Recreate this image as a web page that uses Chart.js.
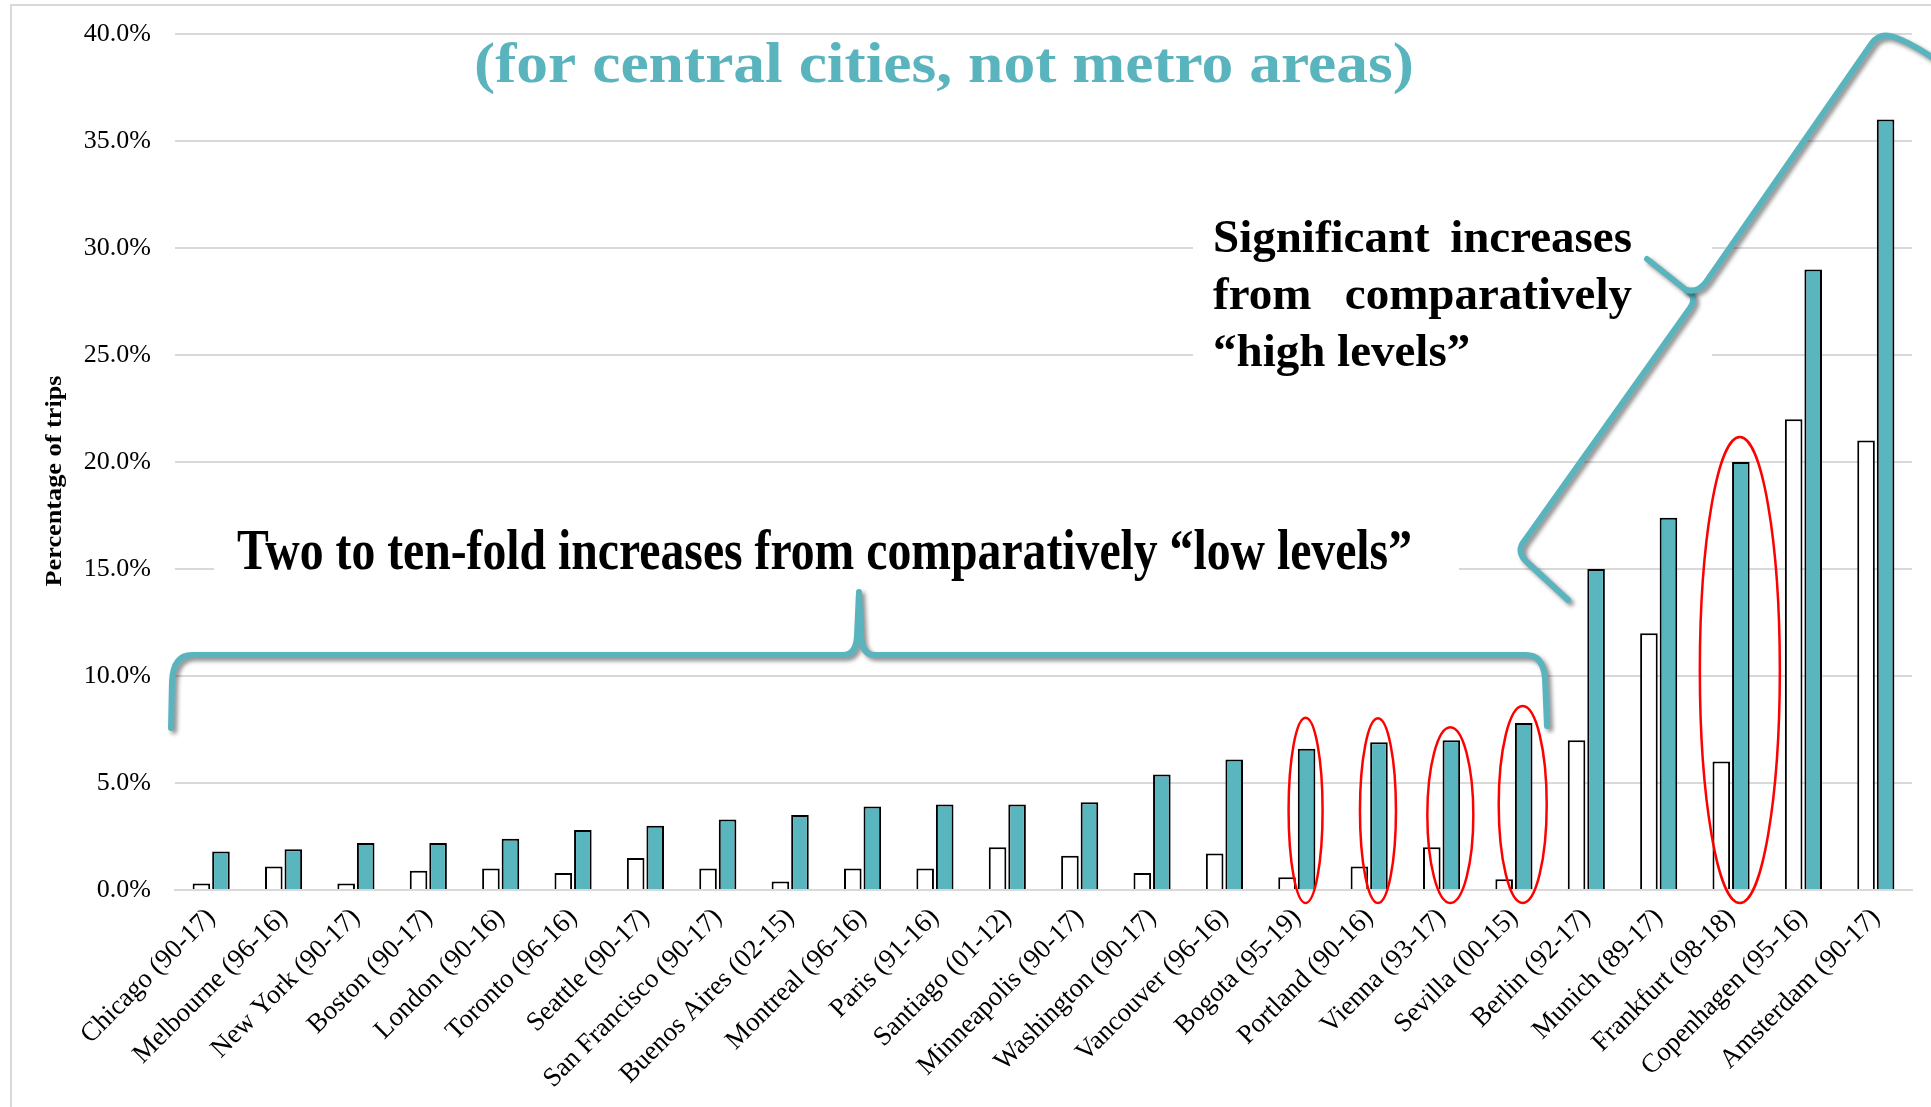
<!DOCTYPE html>
<html>
<head>
<meta charset="utf-8">
<script src="https://cdn.jsdelivr.net/npm/chart.js@4"></script>
<style>
  html, body { margin: 0; padding: 0; background: #fff; }
  canvas { display: block; }
</style>
</head>
<body>
<canvas id="myChart" width="1931" height="1107"></canvas>
<script>
// data (percentage of trips by bike)
const cities = ["Chicago (90-17)", "Melbourne (96-16)", "New York (90-17)", "Boston (90-17)", "London (90-16)",
  "Toronto (96-16)", "Seattle (90-17)", "San Francisco (90-17)", "Buenos Aires (02-15)", "Montreal (96-16)",
  "Paris (91-16)", "Santiago (01-12)", "Minneapolis (90-17)", "Washington (90-17)", "Vancouver (96-16)",
  "Bogota (95-19)", "Portland (90-16)", "Vienna (93-17)", "Sevilla (00-15)", "Berlin (92-17)",
  "Munich (89-17)", "Frankfurt (98-18)", "Copenhagen (95-16)", "Amsterdam (90-17)"]
const startShare = [0.3, 1.1, 0.3, 0.9, 1.0, 0.8, 1.5, 1.0, 0.4, 1.0, 1.0, 2.0, 1.6, 0.8, 1.7, 0.6, 1.1, 2.0, 0.5, 7.0, 12.0, 6.0, 22.0, 21.0]
const endShare = [1.8, 1.9, 2.2, 2.2, 2.4, 2.8, 3.0, 3.3, 3.5, 3.9, 4.0, 4.0, 4.1, 5.4, 6.1, 6.6, 6.9, 7.0, 7.8, 15.0, 17.4, 20.0, 29.0, 36.0]
const yMin = 0, yMax = 40, yStep = 5

// cities ringed in red: index, half width, room above the bar
const ringed = [[15, 17, 31], [16, 18, 24], [17, 23, 13], [18, 24, 17], [21, 40, 25]]

const teal = "rgb(89,182,191)"
const braceTeal = "rgb(90,180,190)"
const serif = '"Liberation Serif", "Times New Roman", serif'

const fitText = (ctx, text, x, y, size, width, color, align) => {
  ctx.save()
  ctx.font = "bold " + size + "px " + serif
  ctx.fillStyle = color
  ctx.textBaseline = "alphabetic"
  ctx.textAlign = "left"
  var w = ctx.measureText(text).width
  var sx = width ? width / w : 1
  ctx.translate(x, y)
  ctx.scale(sx, 1)
  var off = align == "right" ? -w : (align == "center" ? -w / 2 : 0)
  ctx.fillText(text, off, 0)
  ctx.restore()
}

const decor = {
  id: "decor",
  beforeDraw(chart) {
    var ctx = chart.ctx
    ctx.save()
    ctx.fillStyle = "#fff"
    ctx.fillRect(0, 0, chart.width, chart.height)
    // slide frame
    ctx.strokeStyle = "#d9d9d9"
    ctx.lineWidth = 2
    ctx.beginPath()
    ctx.moveTo(11, chart.height)
    ctx.lineTo(11, 5)
    ctx.lineTo(chart.width, 5)
    ctx.stroke()
    ctx.restore()
  },
  beforeDatasetsDraw(chart) {
    var ctx = chart.ctx
    ctx.save()
    ctx.fillStyle = "#fff"
    ctx.fillRect(214, 510, 1245, 100)
    ctx.fillRect(1193, 198, 519, 198)
    ctx.restore()
  },
  afterDatasetsDraw(chart) {
    var ctx = chart.ctx
    var y = chart.scales.y
    var teals = chart.getDatasetMeta(1).data

    // red rings
    ctx.save()
    ctx.strokeStyle = "#ff0000"
    ctx.lineWidth = 2.5
    ringed.forEach(([i, rx, pad]) => {
      var top = y.getPixelForValue(endShare[i]) - pad
      var bottom = y.getPixelForValue(0) + 13
      ctx.beginPath()
      ctx.ellipse(teals[i].x - 1, (top + bottom) / 2, rx, (bottom - top) / 2, 0, 0, Math.PI * 2)
      ctx.stroke()
    })
    ctx.restore()

    // braces
    ctx.save()
    ctx.strokeStyle = braceTeal
    ctx.lineWidth = 6
    ctx.lineCap = "round"
    ctx.lineJoin = "round"
    ctx.shadowColor = "rgba(0,0,0,0.45)"
    ctx.shadowOffsetX = 3
    ctx.shadowOffsetY = 3
    ctx.shadowBlur = 4
    ctx.beginPath()
    ctx.moveTo(171, 728)
    ctx.lineTo(172, 682)
    ctx.quadraticCurveTo(173, 655, 192, 655)
    ctx.lineTo(843, 655)
    ctx.quadraticCurveTo(856, 655, 857, 636)
    ctx.lineTo(859, 592)
    ctx.lineTo(861, 636)
    ctx.quadraticCurveTo(862, 655, 875, 655)
    ctx.lineTo(1526, 655)
    ctx.quadraticCurveTo(1543, 655, 1545, 678)
    ctx.lineTo(1547, 726)
    ctx.stroke()

    ctx.beginPath()
    ctx.moveTo(1568, 600)
    ctx.lineTo(1528, 563)
    ctx.quadraticCurveTo(1515, 552, 1525, 540)
    ctx.lineTo(1690, 308)
    ctx.quadraticCurveTo(1698, 296, 1686, 290)
    ctx.lineTo(1647, 259)
    ctx.stroke()
    ctx.beginPath()
    ctx.moveTo(1686, 290)
    ctx.quadraticCurveTo(1698, 293, 1706, 282)
    ctx.lineTo(1872, 43)
    ctx.quadraticCurveTo(1880, 32, 1894, 37)
    ctx.quadraticCurveTo(1915, 44, 1950, 70)
    ctx.stroke()
    ctx.restore()

    // annotation texts
    fitText(ctx, "(for central cities, not metro areas)", 944, 82, 56, 940, braceTeal, "center")
    fitText(ctx, "Two to ten-fold increases from comparatively \u201clow levels\u201d", 237, 569, 58, 1175, "#000", "left")
    fitText(ctx, "Significant", 1213, 252, 47, 0, "#000", "left")
    fitText(ctx, "increases", 1632, 252, 47, 0, "#000", "right")
    fitText(ctx, "from", 1213, 309, 47, 0, "#000", "left")
    fitText(ctx, "comparatively", 1632, 309, 47, 0, "#000", "right")
    fitText(ctx, "\u201chigh levels\u201d", 1213, 366, 47, 0, "#000", "left")

    // axis title
    ctx.save()
    ctx.translate(53, 481)
    ctx.rotate(-Math.PI / 2)
    fitText(ctx, "Percentage of trips", 0, 8, 23, 211, "#000", "center")
    ctx.restore()
  }
}

var ctx = document.getElementById("myChart").getContext("2d")
var myChart = new Chart(ctx, {
  type: "bar",
  data: {
    labels: cities,
    datasets: [
      { label: "Start", data: startShare, backgroundColor: "#ffffff", borderColor: "#000", borderWidth: 2, borderSkipped: "start" },
      { label: "End", data: endShare, backgroundColor: teal, borderColor: "#000", borderWidth: 2, borderSkipped: "start" }
    ]
  },
  options: {
    responsive: false,
    animation: false,
    categoryPercentage: 0.54,
    barPercentage: 0.9,
    layout: { padding: { top: 34, right: 19, left: 0, bottom: 0 } },
    plugins: { legend: { display: false }, tooltip: { enabled: false } },
    scales: {
      x: {
        grid: { display: false, drawTicks: false },
        border: { display: true, color: "#d9d9d9", width: 2 },
        ticks: {
          autoSkip: false, minRotation: 45, maxRotation: 45, padding: 12,
          color: "#000", font: { family: serif, size: 27 }
        },
        afterFit: (s) => { s.height = 217 }
      },
      y: {
        min: yMin, max: yMax,
        grid: { color: "#d9d9d9", lineWidth: 2, drawTicks: false },
        border: { display: false },
        ticks: {
          stepSize: yStep, padding: 24, color: "#000",
          font: { family: serif, size: 26 },
          callback: (v) => v.toFixed(1) + "%"
        },
        afterFit: (s) => { s.width = 175; s.paddingTop = 0; s.paddingBottom = 0 }
      }
    }
  },
  plugins: [decor]
})
</script>
</body>
</html>
